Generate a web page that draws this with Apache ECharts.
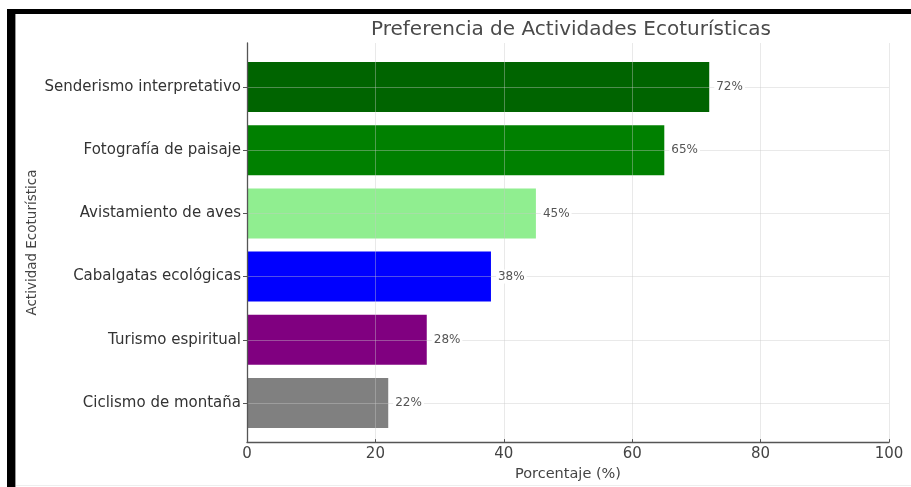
<!DOCTYPE html>
<html><head><meta charset="utf-8">
<script src="https://cdn.jsdelivr.net/npm/echarts@6/dist/echarts.min.js"></script>
<style>html,body{margin:0;padding:0;background:#fff}#c{width:911px;height:487px}</style>
</head><body><div id="c"></div>
<script>
const categories = ["Senderismo interpretativo", "Fotografía de paisaje", "Avistamiento de aves", "Cabalgatas ecológicas", "Turismo espiritual", "Ciclismo de montaña"];
const percentages = [72, 65, 45, 38, 28, 22];
const xTicks = [0, 20, 40, 60, 80, 100];

const barColors = ['#006400', '#008000', '#90ee90', '#0000ff', '#800080', '#808080'];
const FONT = 'DejaVu Sans';
const gridColor = 'rgba(200,200,200,0.4)';
const axisColor = '#555';

const chart = echarts.init(document.getElementById('c'), null, {renderer: 'canvas'});
chart.setOption({
  animation: false,
  backgroundColor: '#fff',
  textStyle: {fontFamily: FONT},
  title: {
    text: 'Preferencia de Actividades Ecoturísticas',
    left: 571, top: 20, padding: 0, textAlign: 'center',
    textStyle: {fontFamily: FONT, fontSize: 20, fontWeight: 'normal', color: '#4a4a4a'}
  },
  grid: [
    {left: 247, right: 22, top: 43, bottom: 41, containLabel: false},
    {left: 247, right: 22, top: 87, bottom: 84, containLabel: false}
  ],
  xAxis: [
    {
      gridIndex: 0, type: 'value', min: xTicks[0], max: xTicks[xTicks.length - 1], interval: xTicks[1] - xTicks[0],
      z: 5,
      name: 'Porcentaje (%)', nameLocation: 'middle', nameGap: 19,
      nameTextStyle: {fontFamily: FONT, fontSize: 14.5, color: '#444'},
      axisLine: {show: true, lineStyle: {color: axisColor, width: 1.3}},
      axisTick: {show: true, inside: true, length: 3, lineStyle: {color: axisColor}},
      axisLabel: {fontFamily: FONT, fontSize: 15, color: '#444', margin: 5},
      splitLine: {show: true, lineStyle: {color: gridColor, width: 1}}
    },
    {
      gridIndex: 1, type: 'value', min: xTicks[0], max: xTicks[xTicks.length - 1],
      show: false
    }
  ],
  yAxis: [
    {
      gridIndex: 0, type: 'value', min: 0, max: 1, z: 5,
      name: 'Actividad Ecoturística', nameLocation: 'middle', nameGap: 208, nameRotate: 90,
      nameTextStyle: {fontFamily: FONT, fontSize: 13.5, color: '#444'},
      axisLine: {show: true, lineStyle: {color: axisColor, width: 1.3}},
      axisTick: {show: false}, axisLabel: {show: false}, splitLine: {show: false}
    },
    {
      gridIndex: 1, type: 'category', data: categories, inverse: true, boundaryGap: false, z: 5,
      axisLine: {show: false},
      axisTick: {show: true, length: 4, lineStyle: {color: axisColor}},
      axisLabel: {fontFamily: FONT, fontSize: 15, color: '#333', margin: 6},
      splitLine: {show: true, lineStyle: {color: gridColor, width: 1}}
    }
  ],
  series: [
    {
      type: 'bar', xAxisIndex: 1, yAxisIndex: 1, barWidth: 50, clip: false, z: 2,
      data: percentages.map((v, i) => ({value: v, itemStyle: {color: barColors[i]}}))
    },
    {
      type: 'bar', xAxisIndex: 1, yAxisIndex: 1, barWidth: 50, barGap: '-100%', clip: false, z: 10,
      itemStyle: {color: 'rgba(0,0,0,0)'},
      silent: true,
      label: {
        show: true, position: 'right', distance: 5,
        formatter: p => p.value + '%',
        fontFamily: FONT, fontSize: 12, color: '#555',
        backgroundColor: '#fff', padding: [1, 2]
      },
      data: percentages.slice()
    }
  ],
  graphic: [
    {type: 'rect', shape: {x: 7, y: 9, width: 904, height: 5}, style: {fill: '#000'}, z: 100},
    {type: 'rect', shape: {x: 7, y: 9, width: 8, height: 478}, style: {fill: '#000'}, z: 100},
    {type: 'rect', shape: {x: 15, y: 14, width: 1, height: 473}, style: {fill: '#999'}, z: 100},
    {type: 'rect', shape: {x: 16, y: 485, width: 895, height: 1}, style: {fill: '#eee'}, z: 100}
  ]
});
</script>
</body></html>
